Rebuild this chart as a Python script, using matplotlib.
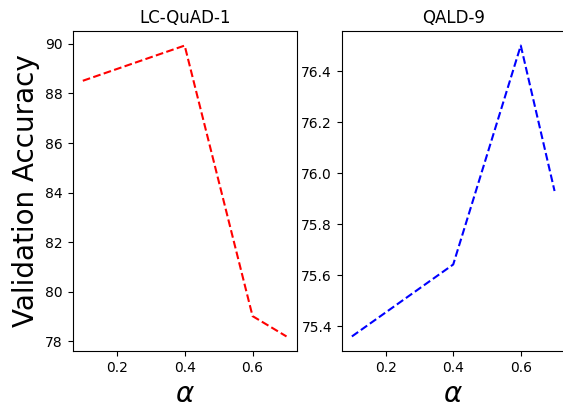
import matplotlib
matplotlib.use('Agg')
import matplotlib.pyplot as plt

alphas = [0.1, 0.4, 0.6, 0.7]
lcquad_acc = [88.51, 89.93, 79.02, 78.2]
qald_acc = [75.36, 75.642, 76.50, 75.93]

fig = plt.figure(figsize=(5.63, 4.07), dpi=100)
ax1 = fig.add_axes([0.129, 0.1376, 0.398, 0.7862])
ax2 = fig.add_axes([0.607, 0.1376, 0.396, 0.7862])

ax1.plot(alphas, lcquad_acc, 'r--')
ax1.set_title('LC-QuAD-1', fontsize=12)
ax1.set_xlabel(r'$\alpha$', fontsize=20)
ax1.set_ylabel('Validation Accuracy', fontsize=20)

ax2.plot(alphas, qald_acc, 'b--')
ax2.set_title('QALD-9', fontsize=12)
ax2.set_xlabel(r'$\alpha$', fontsize=20)

fig.savefig('out.png', dpi=100)
